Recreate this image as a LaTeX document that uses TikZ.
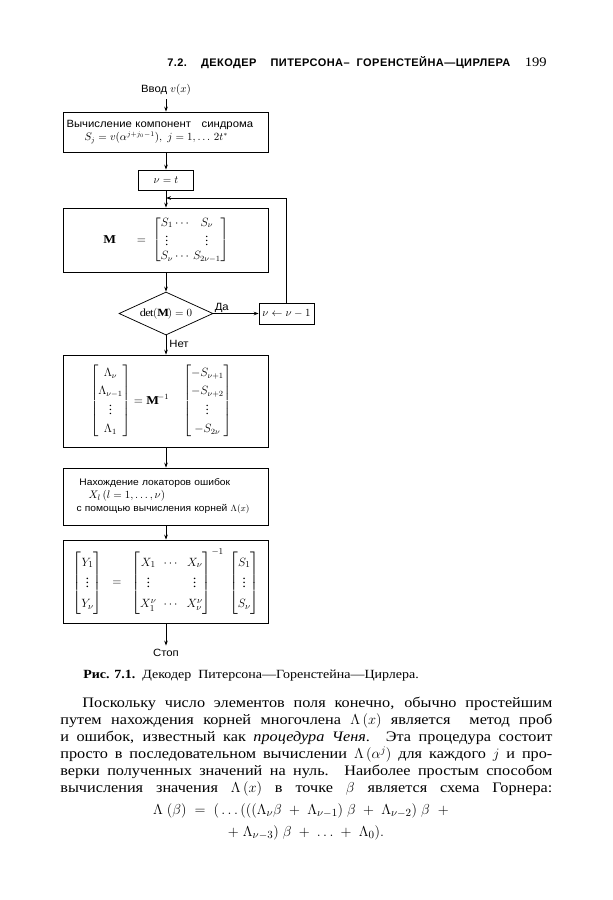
\documentclass[tikz,border=0pt]{standalone}
\usepackage{amsmath,amssymb}
\usepackage{fontspec}
\setmainfont{Liberation Serif}[FakeStretch=1.12]
\newfontfamily\handfont{Liberation Sans}[FakeStretch=1.08]
\newfontfamily\headfont{Liberation Sans}[LetterSpace=4]
\usetikzlibrary{arrows.meta,shapes.geometric}

\begin{document}
\begin{tikzpicture}[x=1pt,y=-1pt,>={Stealth[length=5pt,width=3.6pt]},line width=0.75pt,
  blk/.style={draw,minimum width=205pt,inner sep=0pt},
  lbl/.style={font=\handfont\fontsize{10.5}{13}\selectfont},
  body/.style={font=\fontsize{14.5}{17}\selectfont}]
\useasboundingbox (0,0) rectangle (613,900);
\node[anchor=base west,inner sep=0pt,font=\headfont\bfseries\fontsize{11}{13}\selectfont] (head) at (167,66) {\makebox[343pt][s]{7.2.\ \ ДЕКОДЕР\ \ ПИТЕРСОНА– ГОРЕНСТЕЙНА—ЦИРЛЕРА}};
\node[anchor=base east,inner sep=0pt,font=\fontsize{13}{15}\selectfont] (page) at (547,66) {199};
\node[lbl] (input) at (166,90) {Ввод $v(x)$};
\node[blk,minimum height=40pt,text width=199pt,align=left,lbl] (synd) at (166,132) {Вычисление компонент\quad синдрома\\\hspace*{18pt}$S_j = v(\alpha^{j+j_0-1}),\ j = 1, \ldots\, 2t^{*}$};
\node[blk,minimum width=55pt,minimum height=20pt,lbl] (init) at (166,180) {$\nu = t$};
\node[blk,minimum height=64pt,font=\fontsize{12}{14}\selectfont] (matM) at (166,240) {$\mathbf{M}\quad\;\;=\;\setlength{\arraycolsep}{1pt}\begin{bmatrix} S_1 & \cdots & S_\nu\\ \vdots & & \vdots\\ S_\nu & \cdots & S_{2\nu-1}\end{bmatrix}$};
\node[draw,diamond,aspect=2.2,inner sep=0pt,minimum width=94pt,minimum height=43pt,font=\fontsize{11}{13}\selectfont] (test) at (166,313.5) {$\det(\mathbf{M})=0$};
\node[blk,minimum width=55pt,minimum height=21pt,lbl] (dec) at (286.5,313.5) {$\nu \leftarrow \nu-1$};
\coordinate (join) at (166,198);
\node[blk,minimum height=92pt,font=\fontsize{12}{14}\selectfont] (lam) at (166,401) {$\renewcommand{\arraystretch}{1.25}\begin{bmatrix}\Lambda_\nu\\ \Lambda_{\nu-1}\\ \vdots\\ \Lambda_1\end{bmatrix} = \mathbf{M}^{-1}\quad\begin{bmatrix}-S_{\nu+1}\\ -S_{\nu+2}\\ \vdots\\ -S_{2\nu}\end{bmatrix}$\hspace*{10pt}};
\node[blk,minimum height=57pt,text width=199pt,align=left,lbl,font=\handfont\fontsize{9.5}{13}\selectfont] (roots) at (166,496.5) {\hspace*{13pt}Нахождение локаторов ошибок\\\hspace*{22pt}{\fontsize{11}{13}\selectfont$X_l\,(l = 1, \ldots, \nu)$}\\\hspace*{10pt}с помощью вычисления корней $\Lambda(x)$};
\node[blk,minimum height=83pt,font=\fontsize{13}{15}\selectfont] (solve) at (166,581.5) {$\renewcommand{\arraystretch}{1.35}\setlength{\arraycolsep}{3.5pt}\begin{bmatrix}Y_1\\ \vdots\\ Y_\nu\end{bmatrix}\;\;=\;\;\begin{bmatrix}X_1 & \cdots & X_\nu\\ \vdots & & \vdots\\ X_1^{\nu} & \cdots & X_\nu^{\nu}\end{bmatrix}^{-1}\;\begin{bmatrix}S_1\\ \vdots\\ S_\nu\end{bmatrix}$};
\node[lbl] (stop) at (166,653) {Стоп};
\draw[->] (input) -- (synd);
\draw[->] (synd) -- (init);
\draw[->] (init) -- (matM);
\draw[->] (dec.north) |- (join);
\draw[->] (matM) -- (test);
\draw[->] (test) -- node[lbl,above right,pos=0,inner sep=1pt] {Да} (dec);
\draw[->] (test) -- node[lbl,right,pos=0.45,inner sep=3pt] {Нет} (lam);
\draw[->] (lam) -- (roots);
\draw[->] (roots) -- (solve);
\draw[->] (solve) -- (stop);
\node[anchor=base west,inner sep=0pt,font=\fontsize{12.5}{14}\selectfont] (cap) at (83,678) {\textbf{Рис. 7.1.}\ \ Декодер\ \ Питерсона—Горенстейна—Цирлера.};
\node[anchor=north west,inner sep=0pt,text width=492pt,align=justify,body] (para) at (60,697) {\parfillskip=0pt\hspace*{22pt}Поскольку число элементов поля конечно, обычно простейшим\linebreak путем нахождения корней многочлена $\Lambda\,(x)$ является\ \ метод проб\linebreak и ошибок, известный как \textit{процедура Ченя}. Эта процедура состоит\linebreak просто в последовательном вычислении $\Lambda\,(\alpha^j)$ для каждого $j$ и про-\linebreak верки полученных значений на нуль. Наиболее простым способом\linebreak вычисления значения $\Lambda\,(x)$ в точке $\beta$ является схема Горнера:\par};
\node[anchor=base,inner sep=0pt,font=\fontsize{15}{17}\selectfont] (horner1) at (301,814) {$\Lambda\;(\beta)\;=\;(\,.\,.\,.\,(((\Lambda_\nu\beta\;+\;\Lambda_{\nu-1})\;\beta\;+\;\Lambda_{\nu-2})\;\beta\;\;+$};
\node[anchor=base,inner sep=0pt,font=\fontsize{15}{17}\selectfont] (horner2) at (306,836) {$+\;\Lambda_{\nu-3})\;\beta\;+\;\ldots\;+\;\Lambda_0).$};
\end{tikzpicture}
\end{document}
